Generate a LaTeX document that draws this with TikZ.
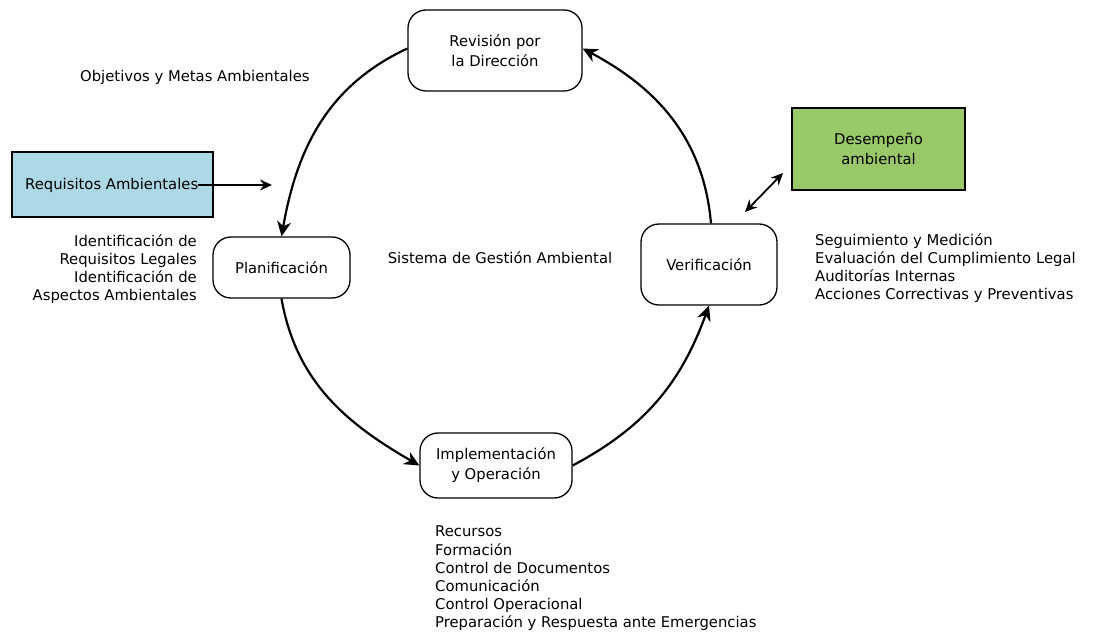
\documentclass[tikz,border=0pt]{standalone}
\usepackage{fontspec}
\setmainfont{DejaVu Sans}
\usetikzlibrary{arrows.meta}
\definecolor{reqblue}{RGB}{173,216,230}
\definecolor{desgreen}{RGB}{152,200,104}
\tikzset{
  stage/.style={draw, line width=1.3pt, rounded corners=18pt, fill=white, align=center,
    font=\fontsize{14.8}{20}\selectfont, inner sep=0pt},
  sidebox/.style={draw, line width=1.3pt, inner sep=0pt, align=center,
    font=\fontsize{14.8}{20}\selectfont},
  note/.style={font=\fontsize{14.8}{18.2}\selectfont, inner sep=0pt},
  cycle/.style={line width=2.2pt, -{Stealth[length=15pt,width=14pt]}},
  link/.style={line width=1.8pt, -{Stealth[length=12pt,width=11pt]}},
}
\begin{document}
\begin{tikzpicture}[x=1pt,y=-1pt]
\useasboundingbox (0,0) rectangle (1093,636);

% side boxes
\node[sidebox, fill=reqblue, minimum width=201pt, minimum height=65pt] (req) at (112.5,184.5) {};
\node[font=\fontsize{14.8}{20}\selectfont, anchor=west, inner sep=0pt] (reqt) at (25,185) {Requisitos Ambientales};
\node[sidebox, fill=desgreen, minimum width=173pt, minimum height=82pt] (des) at (878.5,149) {Desempeño\\ambiental};

% cycle stages
\node[stage, minimum width=174pt, minimum height=81pt] (rev) at (495,50.5) {Revisión por\\la Dirección};
\node[stage, minimum width=137pt, minimum height=61pt] (pla) at (281.5,267.5) {Planificación};
\node[stage, minimum width=136pt, minimum height=81pt] (ver) at (709,264.5) {Verificación};
\node[stage, minimum width=152pt, minimum height=65pt] (imp) at (496,465.5) {Implementación\\y Operación};

% centre label
\node[note] (sga) at (500,258) {Sistema de Gestión Ambiental};

% notes
\node[note, anchor=west] (obj) at (80,77) {Objetivos y Metas Ambientales};
\node[note, anchor=north east, align=right] (plan) at (197,234) {Identificación de\\Requisitos Legales\\Identificación de\\Aspectos Ambientales};
\node[note, anchor=north west, align=left] (verl) at (815,233) {Seguimiento y Medición\\Evaluación del Cumplimiento Legal\\Auditorías Internas\\Acciones Correctivas y Preventivas};
\node[note, anchor=north west, align=left] (impl) at (435,526) {Recursos\\Formación\\Control de Documentos\\Comunicación\\Control Operacional\\Preparación y Respuesta ante Emergencias};

% cycle arrows
\draw[cycle] ([yshift=2pt]rev.west) to[out=205, in=80] (pla.north);
\draw[cycle] (pla.south) to[out=-80, in=150] (imp.west);
\draw[cycle] (imp.east) to[out=28, in=-110] (ver.south);
\draw[cycle] ([xshift=2pt]ver.north) to[out=95, in=-28] ([yshift=2pt]rev.east);

% inputs
\coordinate (reqend) at (272,185);
\draw[link] (reqt.east) -- (reqend);
\coordinate (da) at (745,212);
\coordinate (db) at (783,173);
\draw[line width=1.8pt, {Stealth[length=12pt,width=11pt]}-{Stealth[length=12pt,width=11pt]}] (da) -- (db);
\end{tikzpicture}
\end{document}
